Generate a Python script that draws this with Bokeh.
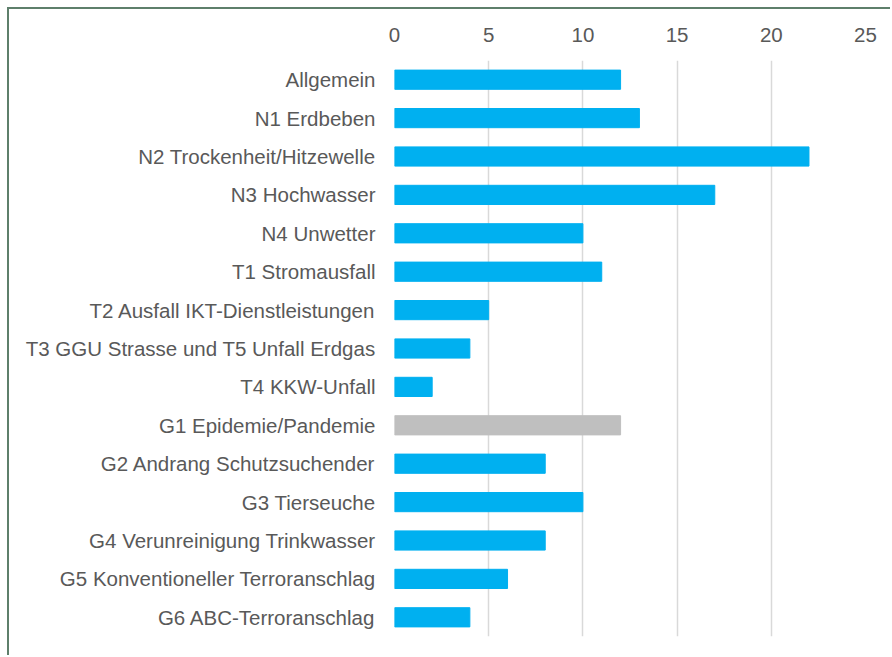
from bokeh.plotting import figure
from bokeh.models import ColumnDataSource, FixedTicker
from bokeh.embed import file_html
from bokeh.resources import INLINE

categories = [
    "Allgemein",
    "N1 Erdbeben",
    "N2 Trockenheit/Hitzewelle",
    "N3 Hochwasser",
    "N4 Unwetter",
    "T1 Stromausfall",
    "T2 Ausfall IKT-Dienstleistungen",
    "T3 GGU Strasse und T5 Unfall Erdgas",
    "T4 KKW-Unfall",
    "G1 Epidemie/Pandemie",
    "G2 Andrang Schutzsuchender",
    "G3 Tierseuche",
    "G4 Verunreinigung Trinkwasser",
    "G5 Konventioneller Terroranschlag",
    "G6 ABC-Terroranschlag",
]
values = [12, 13, 22, 17, 10, 11, 5, 4, 2, 12, 8, 10, 8, 6, 4]
highlight = "G1 Epidemie/Pandemie"
x_ticks = [0, 5, 10, 15, 20, 25]

colors = ["#BFBFBF" if c == highlight else "#00B0F0" for c in categories]
source = ColumnDataSource(dict(cat=categories, val=values, color=colors))

p = figure(
    y_range=list(reversed(categories)),
    x_range=(0, 25),
    width=883,
    height=648,
    output_backend="svg",
    toolbar_location=None,
    x_axis_location="above",
    min_border_left=385,
    min_border_right=27,
    min_border_top=51,
    min_border_bottom=21,
    styles={
        "margin-left": "7px",
        "margin-top": "7px",
        "border-top": "2px solid #5E7F6B",
        "border-left": "2px solid #5E7F6B",
    },
)
p.outline_line_color = None
p.hbar(y="cat", right="val", left=0, height=0.5, color="color", source=source)

p.xaxis.ticker = FixedTicker(ticks=x_ticks)
p.xaxis.axis_line_color = None
p.xaxis.major_tick_line_color = None
p.xaxis.minor_tick_line_color = None
p.xaxis.major_label_text_font = "Liberation Sans"
p.xaxis.major_label_text_font_size = "20.5px"
p.xaxis.major_label_text_color = "#595959"
p.xaxis.major_label_standoff = 13

p.yaxis.axis_line_color = None
p.yaxis.major_tick_line_color = None
p.yaxis.minor_tick_line_color = None
p.yaxis.major_label_text_font = "Liberation Sans"
p.yaxis.major_label_text_font_size = "20.5px"
p.yaxis.major_label_text_color = "#595959"
p.yaxis.major_label_standoff = 13

p.ygrid.grid_line_color = None
p.xgrid.grid_line_color = "#D9D9D9"
p.xgrid.grid_line_width = 1.5

open("out.html", "w").write(file_html(p, INLINE))
